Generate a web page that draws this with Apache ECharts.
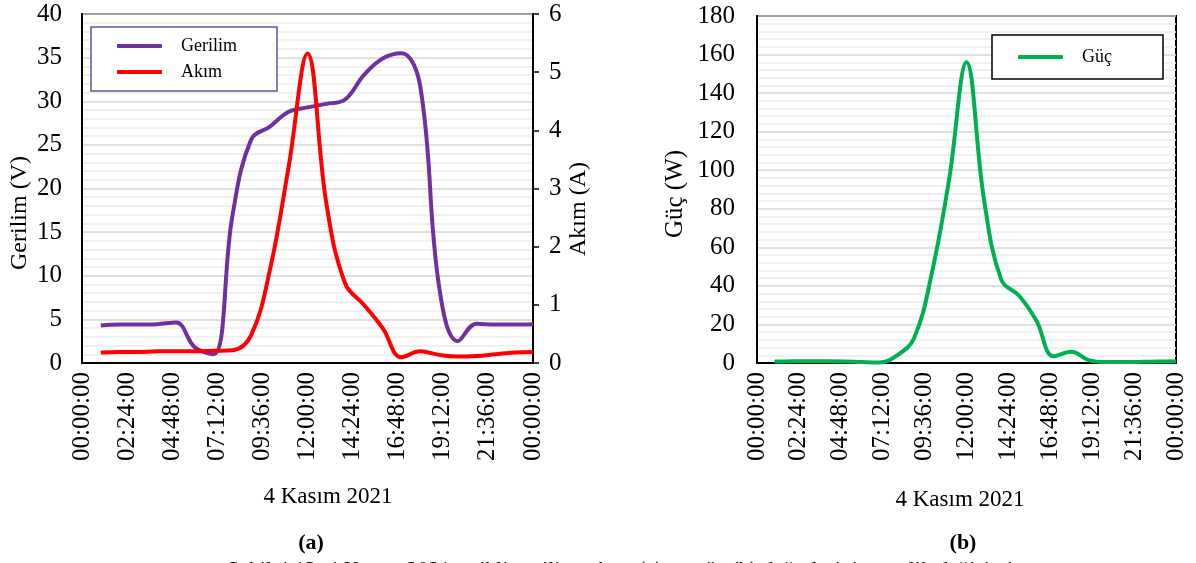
<!DOCTYPE html>
<html>
<head>
    <meta charset="utf-8">
    <title>Gerilim Akım Güç</title>
    <script src="https://cdn.jsdelivr.net/npm/echarts@6/dist/echarts.min.js"></script>
    <style>
    *{margin:0px; padding:0px;}
    body{background:#fff;}
    #main{width:1196px; height:563px;}
    </style>
</head>
<body>
    <div id="main"></div>
    <script type="text/javascript">
        // hours of the day (4 Kasım 2021)
        var hours   = [1, 2, 3, 4, 5, 6, 7, 8, 9, 10, 11, 12, 13, 14, 15, 16, 17, 18, 19, 20, 21, 22, 23, 24];
        var gerilim = [4.3, 4.4, 4.4, 4.45, 4.65, 1.8, 1.0, 16.8, 25.6, 27.1, 28.8, 29.3, 29.7, 30.2, 33.0, 34.9, 35.5, 31.7, 8.8, 2.5, 4.5, 4.4, 4.4, 4.45];
        var akim    = [0.18, 0.19, 0.19, 0.2, 0.2, 0.2, 0.21, 0.22, 0.48, 1.6, 3.38, 5.32, 2.75, 1.37, 1.0, 0.6, 0.1, 0.2, 0.14, 0.11, 0.12, 0.15, 0.18, 0.19];
        var guc     = [0.8, 0.85, 0.9, 0.9, 0.8, 0.5, 0.3, 3.8, 13, 46, 95, 156, 85, 43, 35, 22, 3.5, 5.8, 1.5, 0.5, 0.5, 0.6, 0.8, 0.9];

        var serif = 'Liberation Serif';

        function pairs(vals) {
            return hours.map(function (h, i) { return [h, vals[i]]; });
        }
        function pad(n) { return (n < 10 ? '0' : '') + n; }
        function hhmm(v) {
            var m = Math.round(v * 60) % 1440;
            return pad(Math.floor(m / 60)) + ':' + pad(m % 60) + ':00';
        }

        var xAxisBase = {
            type: 'value', min: 0, max: 24, interval: 2.4,
            axisLine: { show: true, lineStyle: { color: '#000', width: 2 } },
            axisTick: { show: false },
            splitLine: { show: false },
            axisLabel: { rotate: 90, margin: 9, fontSize: 25, fontFamily: serif, color: '#000', formatter: hhmm }
        };
        var yGrid = {
            splitLine: { show: true, lineStyle: { color: '#d6d6d6', width: 1.5 } },
            minorTick: { show: false, splitNumber: 5 },
            minorSplitLine: { show: true, lineStyle: { color: '#ebebeb', width: 1.5 } }
        };

        var myChart = echarts.init(document.getElementById('main'));

        var option = {
            backgroundColor: '#fff',
            animation: false,
            grid: [
                { left: 82, right: 663, top: 14, bottom: 200, show: true, borderColor: '#000', borderWidth: 2 },
                { left: 757, right: 20, top: 16, bottom: 200, show: true, borderColor: '#000', borderWidth: 2 }
            ],
            xAxis: [
                Object.assign({ gridIndex: 0 }, xAxisBase),
                Object.assign({ gridIndex: 1 }, xAxisBase)
            ],
            yAxis: [
                Object.assign({
                    gridIndex: 0, type: 'value', min: 0, max: 40, interval: 5,
                    axisLine: { show: true, lineStyle: { color: '#000', width: 2 } },
                    axisTick: { show: false },
                    axisLabel: { margin: 20, fontSize: 25, fontFamily: serif, color: '#000' }
                }, yGrid),
                {
                    gridIndex: 0, type: 'value', position: 'right', min: 0, max: 6, interval: 1,
                    axisLine: { show: true, lineStyle: { color: '#000', width: 2 } },
                    axisTick: { show: true, length: 6, lineStyle: { color: '#000', width: 1.5 } },
                    splitLine: { show: false },
                    axisLabel: { margin: 16, fontSize: 25, fontFamily: serif, color: '#000' }
                },
                Object.assign({
                    gridIndex: 1, type: 'value', min: 0, max: 180, interval: 20,
                    axisLine: { show: true, lineStyle: { color: '#000', width: 2 } },
                    axisTick: { show: false },
                    axisLabel: { margin: 22, fontSize: 25, fontFamily: serif, color: '#000' }
                }, yGrid)
            ],
            legend: [
                {
                    data: ['Gerilim', 'Akım'], orient: 'vertical', left: 91, top: 27,
                    icon: 'roundRect', itemWidth: 45, itemHeight: 4, itemGap: 8,
                    padding: [10, 40, 10, 26],
                    backgroundColor: '#fff', borderColor: '#6b4f9a', borderWidth: 1.5, borderRadius: 0,
                    textStyle: { fontSize: 18, fontFamily: serif, color: '#000', padding: [0, 0, 0, 14] }
                },
                {
                    data: ['Güç'], orient: 'vertical', left: 992, top: 35,
                    icon: 'roundRect', itemWidth: 45, itemHeight: 4,
                    padding: [13, 51, 13, 26],
                    backgroundColor: '#fff', borderColor: '#000', borderWidth: 1.5, borderRadius: 0,
                    textStyle: { fontSize: 18, fontFamily: serif, color: '#000', padding: [0, 0, 0, 14] }
                }
            ],
            series: [
                {
                    name: 'Gerilim', type: 'line', xAxisIndex: 0, yAxisIndex: 0,
                    data: pairs(gerilim), smooth: 0.4, showSymbol: false,
                    color: '#7030a0', lineStyle: { width: 4, color: '#7030a0' }
                },
                {
                    name: 'Akım', type: 'line', xAxisIndex: 0, yAxisIndex: 1,
                    data: pairs(akim), smooth: 0.4, showSymbol: false,
                    color: '#ff0000', lineStyle: { width: 4, color: '#ff0000' }
                },
                {
                    name: 'Güç', type: 'line', xAxisIndex: 1, yAxisIndex: 2,
                    data: pairs(guc), smooth: 0.4, showSymbol: false,
                    color: '#00b050', lineStyle: { width: 4, color: '#00b050' }
                }
            ],
            graphic: [
                { type: 'text', x: 20, y: 213, rotation: Math.PI / 2,
                  style: { text: 'Gerilim (V)', font: '24px "Liberation Serif"', fill: '#000', align: 'center', verticalAlign: 'middle' } },
                { type: 'text', x: 579, y: 209, rotation: Math.PI / 2,
                  style: { text: 'Akım (A)', font: '24px "Liberation Serif"', fill: '#000', align: 'center', verticalAlign: 'middle' } },
                { type: 'text', x: 675, y: 194, rotation: Math.PI / 2,
                  style: { text: 'Güç (W)', font: '25px "Liberation Serif"', fill: '#000', align: 'center', verticalAlign: 'middle' } },
                { type: 'text', x: 328, y: 497,
                  style: { text: '4 Kasım 2021', font: '23px "Liberation Serif"', fill: '#000', align: 'center', verticalAlign: 'middle' } },
                { type: 'text', x: 960, y: 500,
                  style: { text: '4 Kasım 2021', font: '23px "Liberation Serif"', fill: '#000', align: 'center', verticalAlign: 'middle' } },
                { type: 'text', x: 311, y: 543,
                  style: { text: '(a)', font: 'bold 22px "Liberation Serif"', fill: '#000', align: 'center', verticalAlign: 'middle' } },
                { type: 'text', x: 963, y: 543,
                  style: { text: '(b)', font: 'bold 22px "Liberation Serif"', fill: '#000', align: 'center', verticalAlign: 'middle' } },
                { type: 'text', x: 620, y: 559,
                  style: { text: 'Şekil 4.13. 4 Kasım 2021 tarihli gerilim, akım (a) ve güç (b) değerlerinin saatlik değişimi', font: '22px "Liberation Serif"', fill: '#000', align: 'center', verticalAlign: 'top' } }
            ]
        };

        myChart.setOption(option);
    </script>
</body>
</html>
